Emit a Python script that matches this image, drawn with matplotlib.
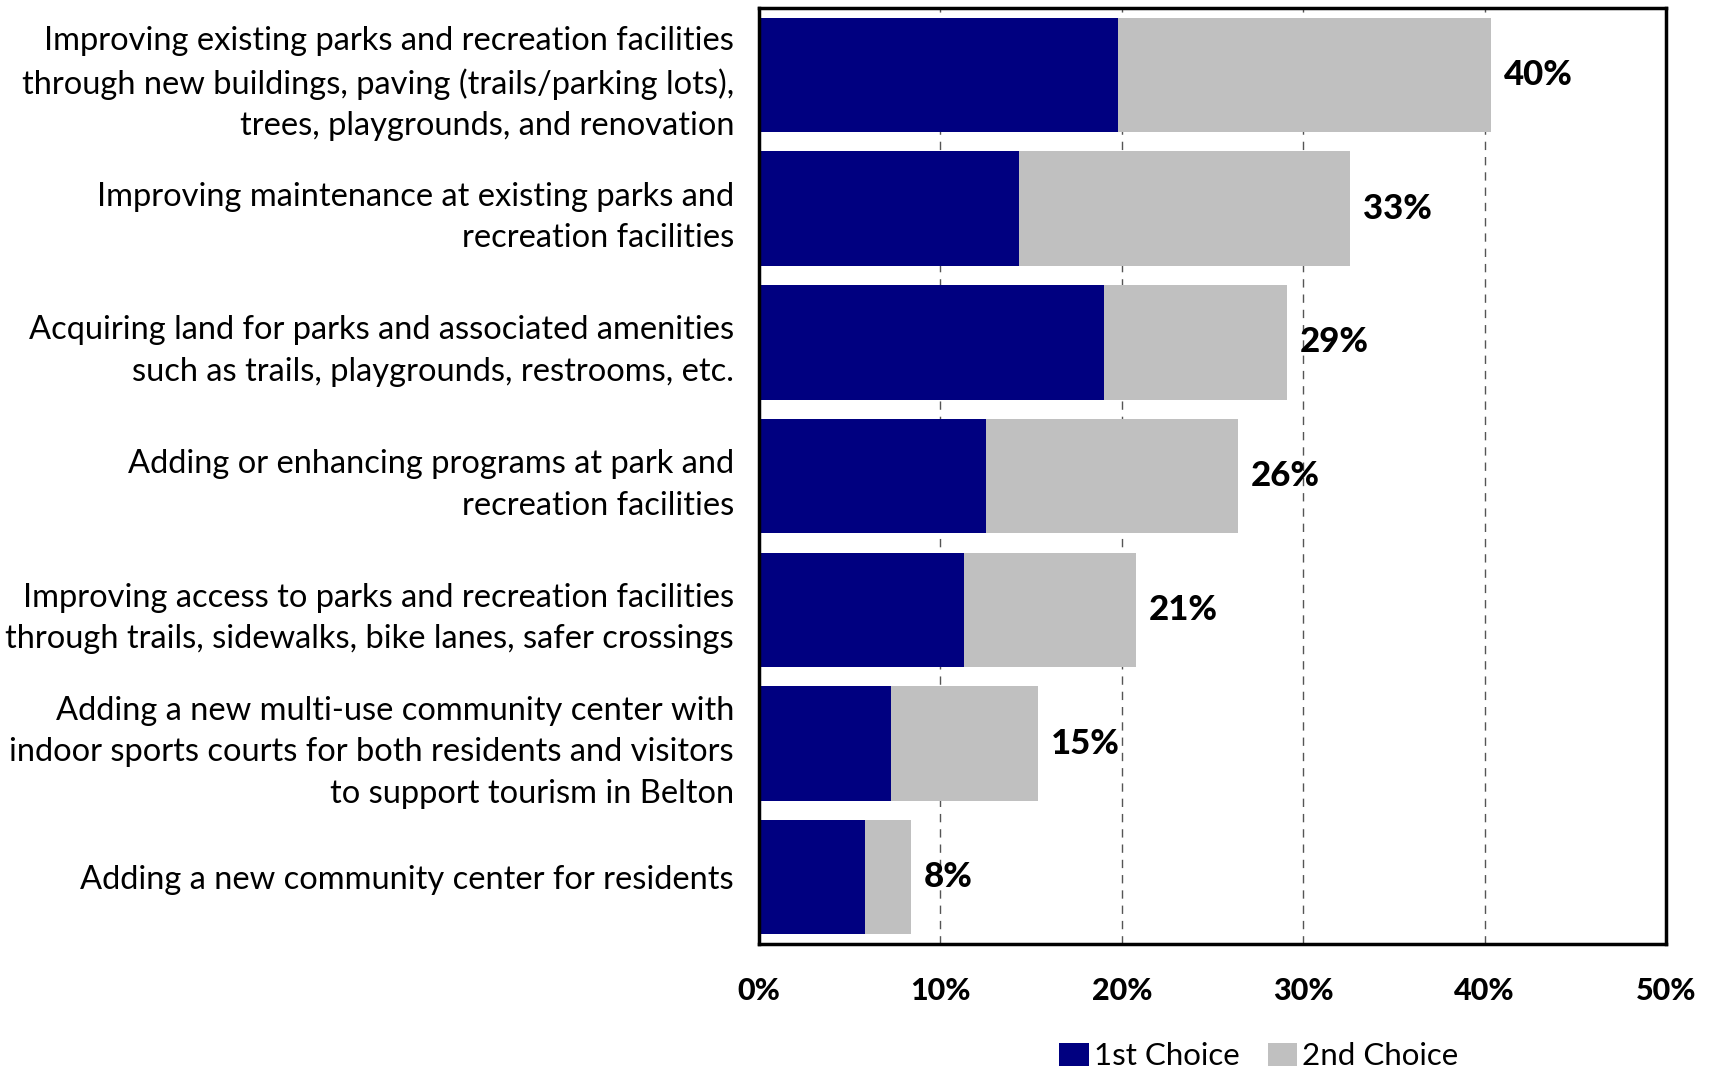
import matplotlib.pyplot as plt
import matplotlib.transforms as mtransforms
from matplotlib.ticker import FuncFormatter

categories = [
    "Improving existing parks and recreation facilities\nthrough new buildings, paving (trails/parking lots),\ntrees, playgrounds, and renovation",
    "Improving maintenance at existing parks and\nrecreation facilities",
    "Acquiring land for parks and associated amenities\nsuch as trails, playgrounds, restrooms, etc.",
    "Adding or enhancing programs at park and\nrecreation facilities",
    "Improving access to parks and recreation facilities\nthrough trails, sidewalks, bike lanes, safer crossings",
    "Adding a new multi-use community center with\nindoor sports courts for both residents and visitors\nto support tourism in Belton",
    "Adding a new community center for residents",
]
first_choice = [19.8, 14.35, 19.0, 12.5, 11.3, 7.3, 5.85]
second_choice = [20.55, 18.25, 10.1, 13.9, 9.5, 8.1, 2.55]
total_labels = ["40%", "33%", "29%", "26%", "21%", "15%", "8%"]
xticks = [0, 10, 20, 30, 40, 50]

navy = "#000080"
silver = "#C0C0C0"

fig = plt.figure(figsize=(17.15, 10.68), dpi=100)
ax = fig.add_axes([0.4426, 0.116, 0.5288, 0.8765])

ypos = list(range(len(categories)))
ax.barh(ypos, first_choice, height=0.855, color=navy, label="1st Choice", zorder=2)
ax.barh(ypos, second_choice, left=first_choice, height=0.855, color=silver,
        label="2nd Choice", zorder=2)

for y, a, b, lab in zip(ypos, first_choice, second_choice, total_labels):
    ax.text(a + b + 0.7, y, lab, va="center", ha="left", fontsize=25,
            fontweight="black", family="Lato")

ax.set_xlim(0, 50)
ax.set_ylim(len(categories) - 0.5, -0.5)
ax.set_xticks(xticks)
ax.xaxis.set_major_formatter(FuncFormatter(lambda v, p: f"{v:.0f}%"))
ax.set_yticks(ypos)
ax.set_yticklabels(categories, fontsize=23.5, family="Lato", linespacing=1.48)
# first label sits a little high in the original
lbl0 = ax.get_yticklabels()[0]
lbl0.set_transform(lbl0.get_transform() +
                   mtransforms.ScaledTranslation(0, 0.07, fig.dpi_scale_trans))
for t in ax.get_xticklabels():
    t.set_fontsize(22)
    t.set_fontweight("black")
    t.set_family("Lato")
ax.tick_params(axis="both", length=0)
ax.tick_params(axis="y", pad=18)
ax.tick_params(axis="x", pad=24)

ax.xaxis.grid(True, linestyle=(0, (6, 5)), color="#555555", linewidth=1.0, zorder=1)
ax.set_axisbelow(True)
for s in ax.spines.values():
    s.set_linewidth(2.5)
    s.set_color("black")

fig.legend(loc="center", bbox_to_anchor=(0.734, 0.011), ncol=2, frameon=False,
           prop={"family": "Lato", "size": 22.5}, handlelength=0.95, handleheight=0.75,
           handletextpad=0.15, columnspacing=0.9)

fig.savefig("out.png", dpi=100)
